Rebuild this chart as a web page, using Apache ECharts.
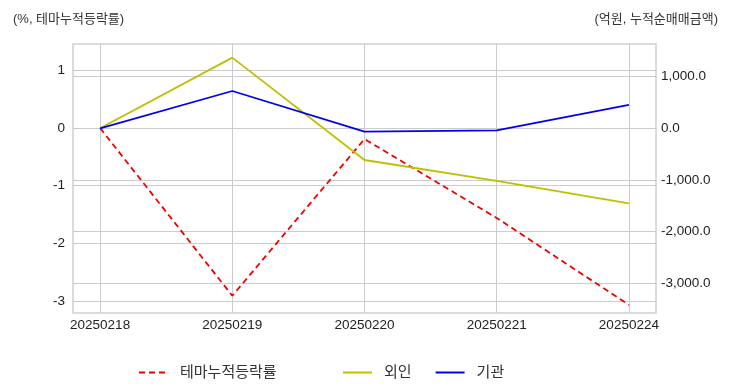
<!DOCTYPE html>
<html><head><meta charset="utf-8">
<script src="https://cdn.jsdelivr.net/npm/echarts@6/dist/echarts.min.js"></script>
<style>html,body{margin:0;padding:0;background:#fff}#c{width:732px;height:392px}</style>
</head><body><div id="c"></div>
<script>
const dates = ['20250218','20250219','20250220','20250221','20250224'];
const themeRate = [0, -2.91, -0.19, -1.56, -3.07];
const foreign = [0, 1366, -613, -1019, -1451];
const institution = [0, 721, -66, -39, 451];
const leftTicks = [-3, -2, -1, 0, 1];
const rightTicks = [-3000, -2000, -1000, 0, 1000];
const xTicks = [0, 1, 2, 3, 4];

const FONT = "'Liberation Sans', 'Noto Sans CJK KR', sans-serif";
const toPairs = arr => arr.map((v, i) => [i, v]);
const fmtR = v => v.toLocaleString('en-US', {minimumFractionDigits: 1, maximumFractionDigits: 1});

const legendText = {fontSize: 15, color: '#333', fontFamily: FONT, padding: [0, 0, 0, 7]};
const chart = echarts.init(document.getElementById('c'));
chart.setOption({
  animation: false,
  textStyle: {fontFamily: FONT},
  title: [
    {text: '(%, 테마누적등락률)', left: 8, top: 8, textStyle: {fontSize: 13, fontWeight: 'normal', color: '#333', fontFamily: FONT}},
    {text: '(억원, 누적순매매금액)', right: 9, top: 8, textStyle: {fontSize: 13, fontWeight: 'normal', color: '#333', fontFamily: FONT}}
  ],
  legend: [
    {data: ['테마누적등락률'], left: 133, top: 360, itemWidth: 29, itemHeight: 14, itemGap: 10,
     itemStyle: {opacity: 0}, textStyle: legendText},
    {data: ['외인', '기관'], left: 337, top: 360, itemWidth: 29, itemHeight: 14, itemGap: 23,
     itemStyle: {opacity: 0}, textStyle: legendText}
  ],
  grid: {left: 73, right: 76, top: 44, bottom: 79, show: true, borderColor: '#cfcfcf', borderWidth: 1.5, containLabel: false},
  xAxis: {
    type: 'value', min: -0.205, max: 4.205,
    axisLine: {show: false},
    axisTick: {show: false, customValues: xTicks},
    axisLabel: {customValues: xTicks, formatter: v => dates[v], color: '#222', fontSize: 13.5, margin: 6, fontFamily: FONT},
    splitLine: {show: true, lineStyle: {color: '#cccccc', width: 1}}
  },
  yAxis: [
    {type: 'value', min: -3.21, max: 1.46, position: 'left',
     axisLine: {show: false},
     axisTick: {show: false, customValues: leftTicks},
     axisLabel: {customValues: leftTicks, formatter: v => String(v), color: '#222', fontSize: 13.5, margin: 8, fontFamily: FONT},
     splitLine: {show: true, lineStyle: {color: '#cccccc', width: 1}}},
    {type: 'value', min: -3572, max: 1630, position: 'right',
     axisLine: {show: false},
     axisTick: {show: false, customValues: rightTicks},
     axisLabel: {customValues: rightTicks, formatter: fmtR, color: '#222', fontSize: 13.5, margin: 5, fontFamily: FONT},
     splitLine: {show: true, lineStyle: {color: '#cccccc', width: 1}}}
  ],
  series: [
    {name: '테마누적등락률', type: 'line', yAxisIndex: 0, data: toPairs(themeRate), symbol: 'none',
     lineStyle: {color: '#ee0000', width: 1.8, type: [6, 4]}, itemStyle: {color: '#ee0000'}},
    {name: '외인', type: 'line', yAxisIndex: 1, data: toPairs(foreign), symbol: 'none',
     lineStyle: {color: '#bfbf00', width: 1.8}, itemStyle: {color: '#bfbf00'}},
    {name: '기관', type: 'line', yAxisIndex: 1, data: toPairs(institution), symbol: 'none',
     lineStyle: {color: '#0000ee', width: 1.8}, itemStyle: {color: '#0000ee'}}
  ]
});
</script></body></html>
